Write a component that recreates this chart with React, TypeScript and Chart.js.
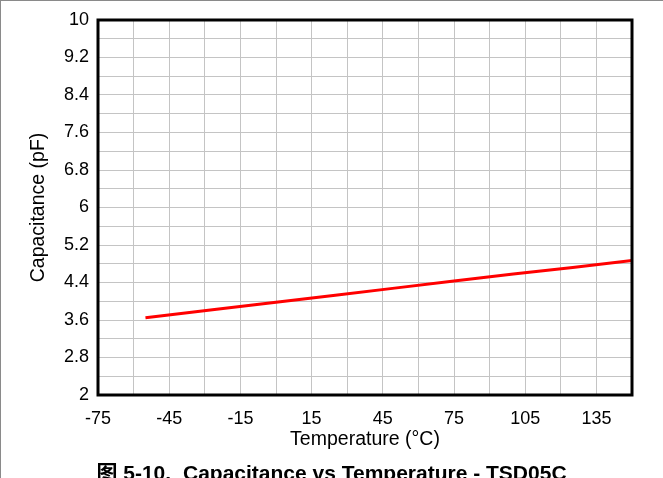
import React, { useEffect, useRef } from "react";
import { Chart, registerables } from "chart.js";

Chart.register(...registerables);

const temperatures = [-55, -25, 0, 25, 50, 75, 100, 125, 150];
const capacitance = [3.65, 3.83, 3.98, 4.13, 4.28, 4.43, 4.58, 4.72, 4.87];
const xMin = -75;
const xMax = 150;
const yMin = 2;
const yMax = 10;
const xTitle = "Temperature (°C)";
const yTitle = "Capacitance (pF)";
const captionFig = "图 5-10.";
const captionText = "Capacitance vs Temperature - TSD05C";

const FONT = '"Liberation Sans", Arial, "Noto Sans CJK SC", sans-serif';

export default function App() {
  const ref = useRef<HTMLCanvasElement | null>(null);

  useEffect(() => {
    if (!ref.current) return;
    const framePlugin = {
      id: "frame",
      afterDatasetsDraw(chart: any) {
        const { ctx, chartArea } = chart;
        ctx.save();
        ctx.strokeStyle = "#000";
        ctx.lineWidth = 3;
        ctx.strokeRect(chartArea.left, chartArea.top, chartArea.right - chartArea.left, chartArea.bottom - chartArea.top);
        ctx.restore();
      },
    };
    const chart = new Chart(ref.current, {
      type: "line",
      data: {
        datasets: [
          {
            data: temperatures.map((t, i) => ({ x: t, y: capacitance[i] })),
            borderColor: "#ff0000",
            borderWidth: 3,
            pointRadius: 0,
            tension: 0,
            fill: false,
          },
        ],
      },
      options: {
        animation: false,
        responsive: false,
        maintainAspectRatio: false,
        layout: { padding: { top: 20, right: 31, bottom: 26.3, left: 0 } },
        plugins: { legend: { display: false }, tooltip: { enabled: false } },
        scales: {
          x: {
            type: "linear",
            min: xMin,
            max: xMax,
            afterFit: (s: any) => {
              s.height = 56.7;
            },
            border: { display: false },
            grid: { color: "#c4c4c4", lineWidth: 1, drawTicks: false },
            ticks: {
              stepSize: 15,
              autoSkip: false,
              maxRotation: 0,
              padding: 13,
              color: "#000",
              font: { family: FONT, size: 18 },
              callback: (v: any) => {
                const n = Number(v);
                if (n >= xMax) return "";
                return Math.round(n - xMin) % 30 === 0 ? String(Math.round(n)) : "";
              },
            },
            title: {
              display: true,
              text: xTitle,
              color: "#000",
              font: { family: FONT, size: 19.5 },
              padding: 0,
            },
          },
          y: {
            type: "linear",
            min: yMin,
            max: yMax,
            afterFit: (s: any) => {
              s.width = 98;
            },
            border: { display: false },
            grid: { color: "#c4c4c4", lineWidth: 1, drawTicks: false },
            ticks: {
              stepSize: 0.4,
              autoSkip: false,
              padding: 9,
              color: "#000",
              font: { family: FONT, size: 18 },
              callback: (v: any) => {
                const n = Number(v);
                const idx = Math.round((n - yMin) / 0.4);
                return idx % 2 === 0 ? String(parseFloat(n.toFixed(1))) : "";
              },
            },
            title: {
              display: true,
              text: yTitle,
              color: "#000",
              font: { family: FONT, size: 19.5 },
              padding: { top: 26.6, bottom: 0 },
            },
          },
        },
      },
      plugins: [framePlugin],
    });
    return () => chart.destroy();
  }, []);

  return (
    <div style={{ position: "fixed", left: 0, top: 0, width: 663, height: 478, background: "#fff", overflow: "hidden" }}>
      <canvas ref={ref} width={663} height={478} style={{ position: "absolute", left: 0, top: 0, width: 663, height: 478 }} />
      <div
        style={{
          position: "absolute",
          left: 0,
          top: 460.7,
          width: 663,
          textAlign: "center",
          fontFamily: FONT,
          fontWeight: "bold",
          fontSize: 21,
          lineHeight: "24px",
          color: "#000",
          whiteSpace: "nowrap",
        }}
      >
        <span style={{ marginRight: 6 }}>{captionFig}</span> {captionText}
      </div>
      <div style={{ position: "absolute", left: 0, top: 0, width: 663, height: 1, background: "#8a8a8a" }} />
      <div style={{ position: "absolute", left: 0, top: 0, width: 1, height: 478, background: "#8a8a8a" }} />
    </div>
  );
}
